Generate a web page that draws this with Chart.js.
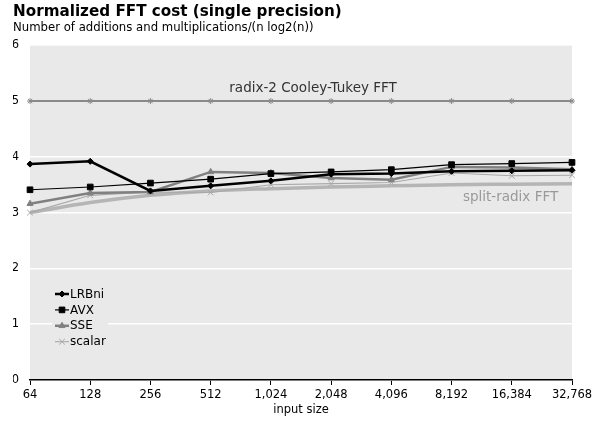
<!DOCTYPE html>
<html>
<head>
<meta charset="utf-8">
<title>Normalized FFT cost</title>
<script src="https://cdn.jsdelivr.net/npm/chart.js@4.4.1/dist/chart.umd.min.js"></script>
<style>
  body { margin: 0; background: #fff; }
  #wrap { width: 601px; height: 422px; position: relative; }
</style>
</head>
<body>
<div id="wrap"><canvas id="fft-chart"></canvas></div>
<script>

//----------------------------Data-----------------------------------------------

const sizes = ['64', '128', '256', '512', '1,024', '2,048', '4,096', '8,192', '16,384', '32,768'];

const lrbni = [3.87, 3.92, 3.39, 3.48, 3.57, 3.69, 3.70, 3.74, 3.75, 3.76];
const avx = [3.41, 3.46, 3.53, 3.60, 3.70, 3.73, 3.77, 3.86, 3.88, 3.90];
const sse = [3.16, 3.35, 3.37, 3.73, 3.71, 3.62, 3.59, 3.82, 3.81, 3.78];
const scalar = [3.00, 3.31, 3.37, 3.36, 3.50, 3.52, 3.54, 3.71, 3.66, 3.67];
const radix2 = [5, 5, 5, 5, 5, 5, 5, 5, 5, 5];
const splitRadix = [3.00, 3.18, 3.31, 3.39, 3.43, 3.46, 3.48, 3.50, 3.51, 3.52];

const yTicks = [0, 1, 2, 3, 4, 5, 6];

const FONT = 'DejaVu Sans, Verdana, sans-serif';


//----------------------------Plugins---------------------------------------------

// grey plot background
const plotBg = {
    id: 'plotBg',
    beforeDraw(chart) {
        const a = chart.chartArea;
        const c = chart.ctx;
        c.save();
        c.fillStyle = '#e9e9e9';
        c.fillRect(a.left, a.top, a.right - a.left, a.bottom - a.top);
        c.restore();
    }
};

// the two reference curve labels
const curveLabels = {
    id: 'curveLabels',
    afterDatasetsDraw(chart) {
        const c = chart.ctx;
        const x = chart.scales.x;
        const y = chart.scales.y;
        c.save();
        c.font = '13.5px ' + FONT;
        c.textAlign = 'center';
        c.textBaseline = 'middle';
        c.fillStyle = '#333';
        c.fillText('radix-2 Cooley-Tukey FFT', x.getPixelForValue(4.7), y.getPixelForValue(5.22));
        c.fillStyle = '#999';
        c.fillText('split-radix FFT', x.getPixelForValue(7.98), y.getPixelForValue(3.27));
        c.restore();
    }
};

// legend inside the plot, lower left
const innerLegend = {
    id: 'innerLegend',
    afterDatasetsDraw(chart) {
        const c = chart.ctx;
        const left = 52, top = 285;
        c.save();
        c.fillStyle = '#e9e9e9';
        c.fillRect(left, top, 56, 64);
        c.font = '12px ' + FONT;
        c.textBaseline = 'middle';
        c.textAlign = 'left';
        for (let i = 0; i < 4; i++) {
            const ds = chart.data.datasets[i];
            const yy = 294 + i * 15.9;
            c.strokeStyle = ds.borderColor;
            c.lineWidth = ds.borderWidth;
            c.beginPath();
            c.moveTo(55, yy);
            c.lineTo(69, yy);
            c.stroke();
            c.fillStyle = ds.borderColor;
            c.strokeStyle = ds.borderColor;
            c.lineWidth = 1;
            Chart.helpers.drawPoint(c, {
                pointStyle: ds.pointStyle,
                radius: ds.pointRadius,
                rotation: 0,
                borderWidth: 1
            }, 62, yy);
            c.fillStyle = '#000';
            c.fillText(ds.label, 70, yy + 0.5);
        }
        c.restore();
    }
};


//----------------------------Chart-----------------------------------------------

let ctx = document.getElementById('fft-chart').getContext('2d');
let fftChart = new Chart(ctx, {
    type: 'line',
    data: {
        labels: sizes,
        datasets: [{
            label: 'LRBni',
            data: lrbni,
            borderColor: '#000',
            backgroundColor: '#000',
            borderWidth: 2.5,
            pointStyle: 'rectRot',
            pointRadius: 3,
            pointBorderWidth: 1
        }, {
            label: 'AVX',
            data: avx,
            borderColor: '#000',
            backgroundColor: '#000',
            borderWidth: 1.2,
            pointStyle: 'rect',
            pointRadius: 4,
            pointBorderWidth: 1
        }, {
            label: 'SSE',
            data: sse,
            borderColor: '#808080',
            backgroundColor: '#808080',
            borderWidth: 2.5,
            pointStyle: 'triangle',
            pointRadius: 3.5,
            pointBorderWidth: 1
        }, {
            label: 'scalar',
            data: scalar,
            borderColor: '#a8a8a8',
            backgroundColor: '#a8a8a8',
            borderWidth: 1.1,
            pointStyle: 'crossRot',
            pointRadius: 4,
            pointBorderWidth: 1
        }, {
            label: 'split-radix FFT',
            data: splitRadix,
            borderColor: '#b5b5b5',
            borderWidth: 3.5,
            pointRadius: 0,
            cubicInterpolationMode: 'monotone'
        }, {
            label: 'radix-2 Cooley-Tukey FFT',
            data: radix2,
            borderColor: '#8a8a8a',
            backgroundColor: '#8a8a8a',
            borderWidth: 2,
            pointStyle: 'star',
            pointRadius: 3,
            pointBorderWidth: 1
        }]
    },
    options: {
        responsive: true,
        maintainAspectRatio: false,
        animation: false,
        layout: {
            padding: { left: 13, right: 29, top: 0, bottom: 0 }
        },
        plugins: {
            legend: { display: false },
            tooltip: { enabled: false },
            title: {
                display: true,
                text: 'Normalized FFT cost (single precision)',
                align: 'start',
                color: '#000',
                font: { family: FONT, size: 15.2, weight: 'bold' },
                padding: { top: 3, bottom: 0 }
            },
            subtitle: {
                display: true,
                text: 'Number of additions and multiplications/(n log2(n))',
                align: 'start',
                color: '#000',
                font: { family: FONT, size: 11.7 },
                padding: { top: 0, bottom: 10 }
            }
        },
        scales: {
            x: {
                afterFit: function (scale) { scale.height = 42; },
                grid: {
                    drawOnChartArea: false,
                    drawTicks: true,
                    tickLength: 5,
                    color: '#000'
                },
                border: { display: true, color: '#000', width: 1.5 },
                ticks: {
                    color: '#000',
                    font: { family: FONT, size: 11.5 },
                    maxRotation: 0,
                    autoSkip: false
                },
                title: {
                    display: true,
                    text: 'input size',
                    color: '#000',
                    font: { family: FONT, size: 11.5 },
                    padding: { top: 0, bottom: 5 }
                }
            },
            y: {
                min: 0,
                max: 6,
                afterFit: function (scale) { scale.width = 17; },
                afterBuildTicks: function (scale) {
                    scale.ticks = yTicks.map(v => ({ value: v }));
                },
                grid: {
                    color: '#fff',
                    lineWidth: 1.6,
                    drawTicks: false
                },
                border: { display: false },
                ticks: {
                    color: '#000',
                    padding: 11,
                    font: { family: FONT, size: 11.5 }
                }
            }
        }
    },
    plugins: [plotBg, curveLabels, innerLegend]
});

</script>
</body>
</html>
